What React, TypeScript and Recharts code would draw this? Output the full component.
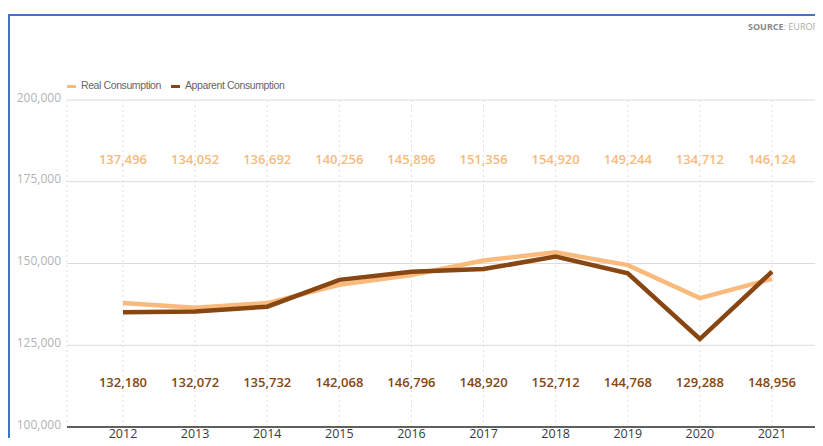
import { LineChart, Line, XAxis, YAxis, CartesianGrid, LabelList } from 'recharts';

// Years on the x axis
const years = ['2012', '2013', '2014', '2015', '2016', '2017', '2018', '2019', '2020', '2021'];

// Plotted line values
const realLine = [137900, 136500, 137900, 143500, 146500, 150900, 153400, 149500, 139400, 145300];
const apparentLine = [135100, 135300, 136800, 145000, 147500, 148300, 152100, 147000, 126900, 147500];

// Printed value rows
const realLabels = [137496, 134052, 136692, 140256, 145896, 151356, 154920, 149244, 134712, 146124];
const apparentLabels = [132180, 132072, 135732, 142068, 146796, 148920, 152712, 144768, 129288, 148956];

const yTicks = [100000, 125000, 150000, 175000, 200000];

const REAL = '#F9BA7C';
const APPARENT = '#874612';
const FONT = '"Open Sans", sans-serif';

const data = years.map((year, i) => ({
  year,
  real: realLine[i],
  apparent: apparentLine[i],
  realLabel: realLabels[i],
  apparentLabel: apparentLabels[i],
}));

const fmt = (v: number) => v.toLocaleString('en-US');

const rowLabel = (rowY: number, color: string) => (props: any) => (
  <text
    x={props.x}
    y={rowY}
    textAnchor="middle"
    dominantBaseline="central"
    fill={color}
    fontSize={13}
    fontWeight={600}
    fontFamily={FONT}
  >
    {fmt(Number(props.value))}
  </text>
);

const YTick = (props: any) => (
  <text
    x={props.x}
    y={props.y - 3}
    textAnchor="end"
    dominantBaseline="central"
    fill="#b3b3b3"
    fontSize={12}
    fontFamily={FONT}
  >
    {fmt(props.payload.value)}
  </text>
);

// x tick: baseline a fixed gap under the axis line
const XTick = (props: any) => (
  <text
    x={props.x}
    y={props.y + 11}
    textAnchor="middle"
    fill="#3a3a3a"
    fontSize={12.5}
    fontFamily={FONT}
  >
    {props.payload.value}
  </text>
);

const legendItems = [
  { label: 'Real Consumption', color: REAL },
  { label: 'Apparent Consumption', color: APPARENT },
];

export default function App() {
  return (
    <div style={{ position: 'relative', width: 815, height: 438, marginBottom: -8, overflow: 'hidden', background: '#fff' }}>
      <div
        style={{
          position: 'absolute',
          left: 0,
          top: 6,
          width: 900,
          height: 500,
          border: '2px solid #4472C4',
        }}
      />
      <div
        style={{
          position: 'absolute',
          left: 740,
          top: 12,
          fontFamily: FONT,
          fontSize: 9,
          color: '#aaa',
          whiteSpace: 'nowrap',
        }}
      >
        <span style={{ fontWeight: 700, color: '#8a8a8a' }}>SOURCE</span>: EUROFER
      </div>
      <div
        style={{
          position: 'absolute',
          left: 59,
          top: 71,
          display: 'flex',
          alignItems: 'center',
          fontFamily: '"Liberation Sans", sans-serif',
          fontSize: 10.5,
          letterSpacing: -0.4,
          color: '#666',
          whiteSpace: 'nowrap',
        }}
      >
        {legendItems.map((item) => (
          <div key={item.label} style={{ display: 'flex', alignItems: 'center', marginRight: 10 }}>
            <span style={{ display: 'inline-block', width: 9, height: 3, background: item.color, marginRight: 5, marginTop: 3 }} />
            <span>{item.label}</span>
          </div>
        ))}
      </div>
      <div style={{ position: 'absolute', left: 0, top: 0 }}>
        <LineChart width={830} height={460} data={data} margin={{ top: 92, right: 0, bottom: 11, left: 0 }}>
          <CartesianGrid horizontal vertical={false} stroke="#dcdcdc" />
          <CartesianGrid horizontal={false} vertical stroke="#dedede" strokeDasharray="2 3" />
          <XAxis
            dataKey="year"
            height={30}
            padding={{ left: 56, right: 66 }}
            tickLine={false}
            tickSize={0}
            tickMargin={0}
            axisLine={{ stroke: '#5f5f5f', strokeWidth: 2 }}
            tick={<XTick />}
          />
          <YAxis
            width={59}
            domain={[100000, 200000]}
            ticks={yTicks}
            axisLine={false}
            tickLine={false}
            tickSize={6}
            tickMargin={0}
            tick={<YTick />}
          />
          <Line
            type="linear"
            dataKey="real"
            name="Real Consumption"
            stroke={REAL}
            strokeWidth={4.5}
            dot={false}
            isAnimationActive={false}
          >
            <LabelList dataKey="realLabel" content={rowLabel(151, REAL)} />
          </Line>
          <Line
            type="linear"
            dataKey="apparent"
            name="Apparent Consumption"
            stroke={APPARENT}
            strokeWidth={4.5}
            dot={false}
            isAnimationActive={false}
          >
            <LabelList dataKey="apparentLabel" content={rowLabel(373.5, APPARENT)} />
          </Line>
        </LineChart>
      </div>
    </div>
  );
}
